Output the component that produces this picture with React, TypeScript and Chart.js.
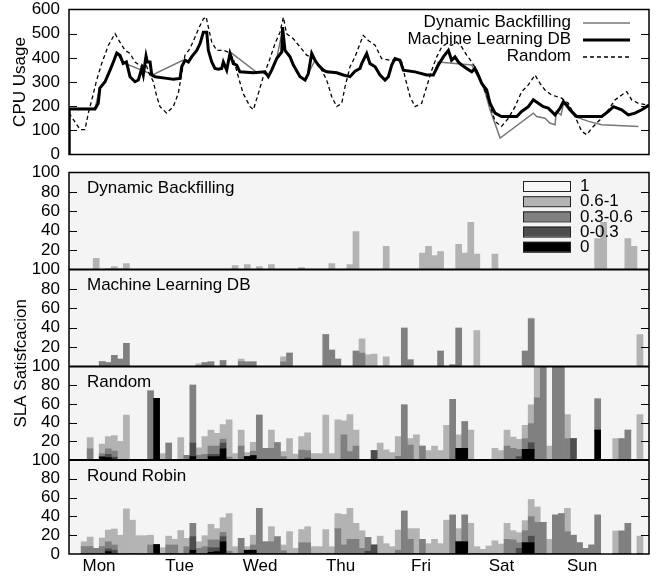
import React, { useEffect, useRef } from 'react';
import { Chart, registerables } from 'chart.js';

Chart.register(...registerables);

const FONT_FAMILY = 'Liberation Sans';
const DAYS = ['Mon', 'Tue', 'Wed', 'Thu', 'Fri', 'Sat', 'Sun'];
const X_MIN = -0.373;
const X_MAX = 6.832;
const BIN_COUNT = 96;
const BIN_WIDTH = (X_MAX - X_MIN) / BIN_COUNT;

// ---- CPU usage (x in days from Monday, y in CPU units) ----
const CPU_DB: [number, number][] = [
  [-0.37, 190], [-0.05, 190], [0.01, 275], [0.075, 301], [0.137, 349], [0.178, 383], [0.22, 420], [0.3, 380],
  [0.67, 330], [1.04, 390], [1.11, 383], [1.15, 404], [1.214, 431], [1.255, 459], [1.296, 506], [1.338, 506],
  [1.358, 431], [1.4, 383], [1.44, 356], [1.482, 353], [1.524, 356], [1.544, 383], [1.586, 349], [1.627, 425],
  [1.95, 342], [2.062, 342], [2.103, 322], [2.145, 349], [2.207, 397], [2.27, 500], [2.31, 431], [2.373, 404],
  [2.414, 370], [2.497, 322], [2.56, 308], [2.6, 335], [2.683, 390], [2.724, 370], [2.786, 349], [2.83, 342],
  [2.953, 338], [3.035, 329], [3.118, 322], [3.18, 345], [3.242, 356], [3.263, 376], [3.325, 418], [3.366, 376],
  [3.43, 363], [3.49, 329], [3.553, 308], [3.594, 322], [3.636, 370], [3.677, 397], [3.739, 390], [3.78, 349],
  [3.925, 342], [4.07, 329], [4.153, 329], [4.215, 383], [4.63, 370], [4.754, 294], [4.8, 253], [4.857, 185],
  [4.983, 68], [5.395, 171], [5.437, 157], [5.54, 150], [5.6, 130], [5.665, 123], [5.68, 178], [5.74, 164],
  [5.77, 212], [5.913, 157], [6.08, 137], [6.245, 123], [6.7, 116],
];

const CPU_ML: [number, number][] = [
  [-0.37, 0], [-0.37, 188], [-0.05, 188], [-0.01, 212], [0.01, 275], [0.075, 301], [0.137, 349], [0.178, 383],
  [0.22, 420], [0.26, 411], [0.3, 377], [0.34, 383], [0.385, 322], [0.447, 301], [0.488, 308], [0.53, 356],
  [0.55, 329], [0.584, 407], [0.6, 383], [0.634, 383], [0.655, 329], [0.696, 322], [0.84, 315], [0.923, 311],
  [1.006, 315], [1.027, 363], [1.068, 390], [1.11, 383], [1.15, 404], [1.214, 431], [1.255, 459], [1.296, 506],
  [1.338, 506], [1.358, 431], [1.4, 383], [1.44, 356], [1.482, 353], [1.524, 356], [1.544, 383], [1.586, 349],
  [1.627, 418], [1.668, 376], [1.71, 370], [1.75, 342], [1.917, 338], [2.062, 342], [2.103, 322], [2.145, 349],
  [2.207, 397], [2.27, 424], [2.28, 527], [2.31, 431], [2.373, 404], [2.414, 370], [2.497, 322], [2.56, 308],
  [2.6, 335], [2.642, 418], [2.683, 390], [2.724, 370], [2.786, 349], [2.83, 342], [2.953, 338], [3.035, 329],
  [3.118, 322], [3.18, 345], [3.242, 356], [3.263, 376], [3.325, 418], [3.366, 376], [3.43, 363], [3.49, 329],
  [3.553, 308], [3.594, 322], [3.636, 370], [3.677, 397], [3.739, 390], [3.78, 349], [3.925, 342], [4.07, 329],
  [4.153, 329], [4.215, 370], [4.277, 404], [4.34, 431], [4.38, 390], [4.422, 404], [4.463, 383], [4.505, 370],
  [4.567, 356], [4.63, 342], [4.67, 356], [4.71, 329], [4.754, 294], [4.816, 267], [4.857, 212], [4.92, 171],
  [5.0, 157], [5.19, 157], [5.25, 178], [5.333, 198], [5.395, 226], [5.457, 212], [5.52, 198], [5.58, 192],
  [5.665, 164], [5.727, 192], [5.768, 219], [5.81, 205], [5.85, 185], [5.892, 171], [5.934, 157], [6.245, 157],
  [6.327, 178], [6.39, 198], [6.493, 185], [6.575, 164], [6.658, 171], [6.742, 185], [6.8, 198], [6.832, 205],
];

const CPU_RANDOM: [number, number][] = [
  [-0.373, 172], [-0.236, 103], [-0.174, 103], [-0.133, 171], [-0.09, 226], [-0.029, 308], [0.033, 376], [0.116, 452],
  [0.199, 500], [0.26, 465], [0.323, 431], [0.385, 418], [0.447, 383], [0.53, 363], [0.571, 390], [0.613, 342],
  [0.675, 301], [0.717, 240], [0.758, 198], [0.84, 171], [0.923, 198], [0.985, 253], [1.027, 335], [1.068, 411],
  [1.13, 438], [1.193, 486], [1.255, 534], [1.296, 561], [1.33, 570], [1.358, 527], [1.4, 465], [1.462, 431],
  [1.544, 431], [1.606, 424], [1.668, 397], [1.73, 322], [1.79, 253], [1.876, 198], [1.917, 185], [1.98, 253],
  [2.04, 322], [2.124, 397], [2.186, 459], [2.248, 506], [2.29, 568], [2.33, 500], [2.414, 479], [2.497, 445],
  [2.58, 411], [2.662, 397], [2.745, 363], [2.828, 308], [2.89, 240], [2.953, 198], [3.015, 212], [3.056, 280],
  [3.118, 363], [3.18, 404], [3.242, 459], [3.283, 493], [3.345, 472], [3.43, 452], [3.51, 397], [3.615, 390],
  [3.677, 390], [3.76, 383], [3.8, 322], [3.863, 240], [3.925, 198], [4.008, 212], [4.07, 280], [4.133, 349],
  [4.195, 404], [4.257, 445], [4.32, 459], [4.38, 452], [4.443, 465], [4.505, 445], [4.567, 411], [4.63, 383],
  [4.692, 349], [4.774, 281], [4.836, 226], [4.92, 137], [5.0, 116], [5.085, 150], [5.168, 198], [5.25, 260],
  [5.333, 288], [5.416, 329], [5.478, 294], [5.54, 267], [5.623, 246], [5.748, 233], [5.83, 212], [5.913, 157],
  [5.996, 96], [6.058, 82], [6.14, 116], [6.224, 144], [6.327, 185], [6.41, 226], [6.493, 246], [6.555, 260],
  [6.617, 226], [6.7, 212], [6.8, 205], [6.832, 205],
];

const CPU_LEGEND = ['Dynamic Backfilling', 'Machine Learning DB', 'Random'];

// ---- SLA satisfaction classes ----
const SLA_CLASSES = ['1', '0.6-1', '0.3-0.6', '0-0.3', '0'];
const SLA_COLORS = ['#f8f8f8', '#b3b3b3', '#808080', '#4d4d4d', '#000000'];

// Dynamic Backfilling (bin index, share % per class)
const DB_BINS = [4, 6, 7, 8, 9, 27, 29, 31, 33, 38, 43, 46, 47, 52, 58, 59, 60, 61, 64, 65, 66, 67, 70, 87, 88, 92, 93];
const DB_ZERO = [0, 0, 0, 0, 0, 0, 0, 0, 0, 0, 0, 0, 0, 0, 0, 0, 0, 0, 0, 0, 0, 0, 0, 0, 0, 0, 0];
const DB_LOW = [0, 0, 0, 0, 0, 0, 0, 0, 0, 0, 0, 0, 0, 0, 0, 0, 0, 0, 0, 0, 0, 0, 0, 0, 0, 0, 0];
const DB_MID = [0, 0, 0, 0, 0, 0, 0, 0, 0, 0, 0, 0, 0, 0, 0, 0, 0, 0, 0, 0, 0, 0, 0, 0, 0, 0, 0];
const DB_HIGH = [11.6, 1, 3, 1, 6, 4, 5, 3, 5, 2, 6, 5, 39, 24, 16.8, 24, 14.4, 18.5, 26, 17, 48.6, 15.8, 15.8, 32, 48.6, 32, 24];

// Machine Learning DB
const ML_BINS = [5, 6, 7, 8, 9, 21, 22, 23, 25, 28, 29, 30, 35, 36, 42, 43, 44, 47, 48, 49, 50, 52, 55, 56, 61, 63, 64, 67, 75, 76, 94];
const ML_ZERO = [0, 0, 0, 0, 0, 0, 0, 0, 0, 0, 0, 0, 0, 0, 0, 0, 0, 0, 0, 0, 0, 0, 0, 0, 0, 0, 0, 0, 0, 0, 0];
const ML_LOW = [0, 0, 0, 0, 0, 0, 0, 0, 0, 0, 0, 0, 0, 0, 0, 0, 0, 0, 0, 0, 0, 0, 0, 0, 0, 0, 0, 0, 0, 0, 0];
const ML_MID = [5, 4, 11.4, 7.6, 24, 1, 4, 4.8, 6, 5, 4.8, 4.8, 4.8, 13.8, 32.8, 17, 7.6, 16, 13.8, 0, 0, 0, 39.7, 7, 16, 1.7, 39.7, 0, 16, 49, 0];
const ML_HIGH = [0, 0, 0, 0, 0, 1.7, 0, 0, 0, 2.6, 0, 0, 5.2, 0, 0, 0, 0, 0, 14.8, 12, 12.8, 10, 0, 0, 0, 0, 0, 37, 0, 1, 32.8];

// Random
const RA_BINS = [3, 5, 6, 7, 8, 9, 13, 14, 15, 16, 18, 19, 20, 21, 22, 23, 24, 25, 26, 27, 28, 29, 30, 31, 32, 33, 34, 35, 36, 37,
  38, 39, 40, 41, 42, 43, 44, 45, 46, 47, 50, 51, 52, 53, 54, 55, 56, 57, 58, 59, 60, 61, 62, 63, 64, 65, 66, 70, 71, 72,
  73, 74, 75, 76, 77, 78, 79, 80, 81, 82, 83, 87, 90, 91, 92, 94];
const RA_ZERO = [0, 3, 2.5, 1, 0, 0, 0, 66, 0, 0, 0, 0, 3.6, 0, 0, 3.6, 3.6, 12, 0, 0, 0, 3.6, 4.6, 0, 0, 0, 0, 0, 0, 0,
  0, 0, 0, 0, 0, 0, 0, 0, 0, 0, 0, 0, 0, 0, 0, 0, 0, 0, 0, 0, 0, 0, 0, 0, 12.6, 12.6, 0, 0, 0, 0,
  0, 0, 11.5, 11.5, 0, 0, 0, 0, 0, 0, 0, 32, 0, 0, 0, 0];
const RA_LOW = [0, 1, 3.5, 2, 0, 0, 0, 0, 0, 0, 0, 0, 14.4, 0, 0, 2.4, 2.4, 6, 0, 0, 0, 0, 0, 0, 0, 0, 0, 0, 0, 0,
  0, 2, 0, 0, 0, 0, 0, 0, 0, 0, 10, 0, 0, 0, 0, 0, 0, 0, 0, 0, 0, 0, 0, 0, 0, 0, 0, 0, 0, 0,
  0, 3.6, 0, 7.2, 0, 0, 0, 0, 0, 0, 23, 0, 0, 0, 0, 0];
const RA_MID = [12, 3, 6, 6.6, 0, 0, 74, 0, 0, 18, 0, 5, 62, 5, 6, 9, 9, 4.5, 3, 0, 15, 0, 5, 48, 12.5, 12.5, 18.6, 3.6, 0, 0,
  10.7, 8, 0, 0, 0, 0, 0, 27, 9, 15, 0, 0, 0, 0, 4, 59, 16, 0, 15, 0, 0, 0, 0, 65, 0, 28.4, 0, 0, 0, 15,
  12.6, 7.9, 11.5, 20.3, 66.5, 100, 0, 100, 100, 23, 0, 33.5, 0, 23, 32, 0];
const RA_HIGH = [12, 10, 13, 16.4, 20, 48, 0, 0, 7, 0, 24, 0, 0, 8, 19, 17, 13.6, 15.5, 40, 7, 17, 4.4, 9.4, 0, 0, 19.5, 0, 5.4, 23, 6.4,
  14.3, 19, 7, 7, 48, 7, 43, 15, 39.5, 17, 0, 18, 11, 8, 21, 0, 7, 27, 0, 10, 15, 10, 37, 0, 14.4, 0, 32, 12.6, 10, 17,
  11.9, 10.5, 14, 20, 33.5, 0, 15, 0, 0, 25.5, 0, 0, 23, 0, 0, 48.5];

// Round Robin
const RR_BINS = [2, 3, 4, 5, 6, 7, 8, 9, 10, 11, 12, 13, 14, 15, 16, 17, 18, 19, 20, 21, 22, 23, 24, 25, 26, 27, 28, 29, 30, 31,
  32, 33, 34, 35, 36, 37, 38, 39, 40, 41, 42, 43, 44, 45, 46, 47, 48, 49, 50, 51, 52, 53, 54, 55, 56, 57, 58, 59, 60, 61,
  62, 63, 64, 65, 66, 67, 68, 69, 70, 71, 72, 73, 74, 75, 76, 77, 78, 79, 80, 81, 82, 83, 84, 85, 86, 87, 90, 91, 92, 94];
const RR_ZERO = [0, 0, 0, 0, 2.5, 0, 0, 0, 0, 0, 0, 0, 10, 0, 0, 0, 0, 0, 4, 0, 0, 1.8, 2.5, 13, 0, 0, 0, 4, 4, 0,
  0, 0, 0, 0, 0, 0, 0, 0, 0, 0, 0, 0, 0, 0, 0, 0, 0, 0, 0, 0, 0, 0, 0, 0, 0, 0, 0, 0, 0, 0,
  0, 0, 13, 13, 0, 0, 0, 0, 0, 0, 0, 0, 0, 12, 12, 0, 0, 0, 0, 0, 0, 0, 0, 0, 0, 0, 0, 0, 0, 0];
const RR_LOW = [0, 0, 0, 0, 3, 4, 0, 0, 0, 0, 0, 0, 0, 0, 0, 0, 0, 0, 14.4, 0, 0, 4.9, 4.2, 5.4, 0, 0, 0, 0, 0, 0,
  0, 0, 0, 0, 0, 0, 0, 0, 0, 0, 0, 0, 0, 0, 0, 0, 0, 3, 9.6, 0, 0, 0, 0, 0, 0, 0, 0, 0, 0, 0,
  0, 0, 0, 0, 0, 0, 0, 0, 0, 0, 0, 0, 6, 0, 7, 0, 0, 0, 0, 0, 0, 0, 0, 0, 0, 0, 0, 0, 0, 0];
const RR_MID = [8, 8, 6, 8, 7.5, 5.6, 0, 0, 0, 0, 0, 9.6, 0, 0, 9.6, 9.6, 0, 7.8, 14.2, 6, 7.8, 8.3, 8.3, 4.6, 3, 0, 16.7, 0, 5.6, 48.6,
  13, 13, 18.4, 3.5, 0, 0, 12, 12, 0, 0, 0, 0, 27, 9.6, 15.6, 15.6, 6, 14.7, 0, 0, 0, 0, 4, 45.7, 15.6, 0, 15.6, 0, 0, 0,
  0, 41.5, 0, 28.5, 0, 0, 0, 0, 0, 0, 15.6, 15, 6, 12.8, 20.7, 33.7, 33.7, 0, 41.5, 43, 23.8, 20, 12, 6, 9.6, 41.5, 0, 24.5, 32.6, 0];
const RR_HIGH = [5, 10, 0, 9, 12.5, 17, 20, 48, 36, 19.5, 19.5, 10.4, 0, 6.7, 9.4, 6, 25, 8.9, 0, 7, 11.7, 16.6, 12, 15.6, 40, 7.8, 0, 3.8, 10.4, 0,
  0, 16, 0, 6.1, 23.8, 6, 14, 17, 7.8, 7.8, 26, 7.8, 16, 32.4, 33, 17, 18.8, 0, 0, 19, 11, 7.8, 21.5, 0, 11.4, 27, 0, 11, 15.6, 11,
  36, 0, 14, 0, 32.6, 7.8, 5, 8.5, 14, 10.6, 17, 9.8, 10.7, 10.7, 18.3, 16.3, 0, 15.6, 0, 0, 24.8, 0, 0, 0, 0, 0, 24.5, 0, 0, 19];

const PANELS = [
  { axis: 'yDB', title: 'Dynamic Backfilling', bins: DB_BINS, classes: [DB_ZERO, DB_LOW, DB_MID, DB_HIGH], weight: 97, order: 4 },
  { axis: 'yML', title: 'Machine Learning DB', bins: ML_BINS, classes: [ML_ZERO, ML_LOW, ML_MID, ML_HIGH], weight: 97, order: 3 },
  { axis: 'yRA', title: 'Random', bins: RA_BINS, classes: [RA_ZERO, RA_LOW, RA_MID, RA_HIGH], weight: 93.5, order: 2 },
  { axis: 'yRR', title: 'Round Robin', bins: RR_BINS, classes: [RR_ZERO, RR_LOW, RR_MID, RR_HIGH], weight: 94, order: 1 },
];
// class colours for stack order bottom -> top: 0, 0-0.3, 0.3-0.6, 0.6-1
const STACK_COLORS = [SLA_COLORS[4], SLA_COLORS[3], SLA_COLORS[2], SLA_COLORS[1]];

const FONT = `17px "${FONT_FAMILY}"`;

Chart.defaults.font.family = FONT_FAMILY;
Chart.defaults.font.size = 17;
Chart.defaults.color = '#000';

function hline(ctx: CanvasRenderingContext2D, x1: number, x2: number, y: number) {
  ctx.beginPath();
  ctx.moveTo(x1, y);
  ctx.lineTo(x2, y);
  ctx.stroke();
}

const topDecor = {
  id: 'topDecor',
  afterDatasetsDraw(chart: any) {
    const { ctx, chartArea: a, scales } = chart;
    const ys = scales.y;
    ctx.save();
    ctx.strokeStyle = '#000';
    ctx.lineWidth = 1;
    for (let v = 100; v < 600; v += 100) {
      const py = Math.round(ys.getPixelForValue(v)) + 0.5;
      hline(ctx, a.left, a.left + 8, py);
      hline(ctx, a.right - 8, a.right, py);
    }
    ctx.lineWidth = 1.5;
    ctx.strokeRect(a.left, a.top, a.right - a.left, a.bottom - a.top);
    ctx.font = FONT;
    ctx.textAlign = 'right';
    ctx.textBaseline = 'middle';
    ctx.fillStyle = '#000';
    CPU_LEGEND.forEach((label, k) => {
      const ds = chart.data.datasets.find((d: any) => d.label === label);
      const ly = a.top + 13.5 + k * 17;
      ctx.fillText(label, a.right - 78, ly - 0.5);
      ctx.strokeStyle = ds.borderColor;
      ctx.lineWidth = ds.borderWidth;
      ctx.setLineDash(ds.borderDash || []);
      hline(ctx, a.right - 66, a.right - 19, ly);
      ctx.setLineDash([]);
    });
    ctx.restore();
  },
};

const bottomDecor = {
  id: 'bottomDecor',
  beforeDatasetsDraw(chart: any) {
    const { ctx, chartArea: a } = chart;
    ctx.save();
    ctx.fillStyle = '#f4f4f4';
    ctx.fillRect(a.left, a.top, a.right - a.left, a.bottom - a.top);
    ctx.restore();
  },
  afterDatasetsDraw(chart: any) {
    const { ctx, chartArea: a, scales } = chart;
    ctx.save();
    ctx.strokeStyle = '#000';
    ctx.fillStyle = '#000';
    ctx.font = FONT;
    PANELS.forEach((p, k) => {
      const s = scales[p.axis];
      ctx.lineWidth = 1;
      [20, 40, 60, 80].forEach((v) => {
        const py = Math.round(s.getPixelForValue(v)) + 0.5;
        hline(ctx, a.left, a.left + 8, py);
        hline(ctx, a.right - 8, a.right, py);
      });
      ctx.textAlign = 'left';
      ctx.textBaseline = 'alphabetic';
      ctx.fillText(p.title, a.left + 18, s.top + 20.5);
      if (k > 0) {
        ctx.lineWidth = 2;
        hline(ctx, a.left, a.right, s.top);
      }
    });
    ctx.lineWidth = 1.5;
    ctx.strokeRect(a.left, a.top, a.right - a.left, a.bottom - a.top);

    // class legend inside the first panel
    const top = scales[PANELS[0].axis].top;
    ctx.textAlign = 'left';
    ctx.textBaseline = 'middle';
    SLA_CLASSES.forEach((label, k) => {
      const cy = top + 13.5 + k * 15.2;
      ctx.fillStyle = SLA_COLORS[k];
      ctx.fillRect(a.right - 126, cy - 5, 48, 10);
      ctx.lineWidth = 1;
      ctx.strokeStyle = '#222';
      ctx.strokeRect(a.right - 126 + 0.5, cy - 5 + 0.5, 47, 10);
      ctx.fillStyle = '#000';
      ctx.fillText(label, a.right - 69, cy + 0.5);
    });

    // shared y title
    ctx.save();
    ctx.translate(21, (a.top + a.bottom) / 2);
    ctx.rotate(-Math.PI / 2);
    ctx.textAlign = 'center';
    ctx.textBaseline = 'middle';
    ctx.fillText('SLA Satisfcacion', 0, 0);
    ctx.restore();
    ctx.restore();
  },
};

export default function App() {
  const topRef = useRef<HTMLCanvasElement>(null);
  const botRef = useRef<HTMLCanvasElement>(null);

  useEffect(() => {
    document.body.style.margin = '0';
    const toPoints = (arr: [number, number][]) => arr.map(([x, y]) => ({ x, y }));

    const topChart = new Chart(topRef.current as HTMLCanvasElement, {
      type: 'line',
      data: {
        datasets: [
          { label: 'Machine Learning DB', data: toPoints(CPU_ML), borderColor: '#000000', borderWidth: 3, pointRadius: 0, tension: 0 },
          { label: 'Random', data: toPoints(CPU_RANDOM), borderColor: '#000000', borderWidth: 1.3, borderDash: [4, 3], pointRadius: 0, tension: 0 },
          { label: 'Dynamic Backfilling', data: toPoints(CPU_DB), borderColor: '#777777', borderWidth: 1.5, pointRadius: 0, tension: 0 },
        ],
      },
      options: {
        responsive: false,
        animation: false,
        events: [],
        layout: { padding: { top: 9, right: 15, bottom: 9, left: 0 } },
        plugins: { legend: { display: false }, tooltip: { enabled: false } },
        scales: {
          x: { type: 'linear', min: X_MIN, max: X_MAX, display: false, offset: false },
          y: {
            type: 'linear', min: 0, max: 600,
            afterFit: (s: any) => { s.width = 69; },
            grid: { display: false, drawTicks: true, tickLength: 8 },
            border: { display: false },
            ticks: { stepSize: 100, padding: 1, autoSkip: false, color: '#000', font: { size: 17, lineHeight: 1 } },
            title: { display: true, text: 'CPU Usage', color: '#000', padding: { top: 10, bottom: 0 }, font: { size: 17, lineHeight: 1.2 } },
          },
        },
      } as any,
      plugins: [topDecor],
    });

    const datasets: any[] = [];
    PANELS.forEach((p) => {
      p.classes.forEach((vals, c) => {
        datasets.push({
          type: 'bar',
          label: `${p.title} ${c}`,
          data: p.bins.map((b, k) => ({ x: X_MIN + (b + 0.5) * BIN_WIDTH, y: vals[k] })),
          backgroundColor: STACK_COLORS[c],
          borderWidth: 0,
          yAxisID: p.axis,
          stack: p.axis,
          grouped: false,
          barPercentage: 1,
          categoryPercentage: 1,
        });
      });
    });

    const yScales: any = {};
    PANELS.forEach((p, k) => {
      const last = k === PANELS.length - 1;
      yScales[p.axis] = {
        type: 'linear', min: 0, max: 100, stacked: true,
        position: 'left', stack: 'sla', stackWeight: p.weight, weight: p.order,
        afterFit: (s: any) => { s.width = 69; },
        grid: { display: false, drawTicks: true, tickLength: 8 },
        border: { display: false },
        ticks: {
          stepSize: 20, padding: 1, autoSkip: false, color: '#000', font: { size: 17, lineHeight: 1 },
          callback: (v: number) => (v === 0 && !last ? '' : String(v)),
        },
      };
    });

    const botChart = new Chart(botRef.current as HTMLCanvasElement, {
      type: 'bar',
      data: { datasets },
      options: {
        responsive: false,
        animation: false,
        events: [],
        layout: { padding: { top: 8, right: 15, bottom: 0, left: 0 } },
        plugins: { legend: { display: false }, tooltip: { enabled: false } },
        scales: {
          x: {
            type: 'linear', min: X_MIN, max: X_MAX, offset: false,
            afterBuildTicks: (s: any) => { s.ticks = DAYS.map((_, i) => ({ value: i })); },
            afterFit: (s: any) => { s.height = 22; },
            grid: { display: false, drawTicks: false },
            border: { display: false },
            ticks: {
              autoSkip: false, maxRotation: 0, padding: 4, color: '#000', font: { size: 17, lineHeight: 1 },
              callback: (v: number) => DAYS[Math.round(v)] ?? '',
            },
          },
          ...yScales,
        },
      } as any,
      plugins: [bottomDecor],
    });

    return () => {
      topChart.destroy();
      botChart.destroy();
    };
  }, []);

  return (
    <div style={{ position: 'relative', width: 664, height: 576, background: '#ffffff' }}>
      <canvas ref={topRef} width={664} height={164} style={{ position: 'absolute', left: 0, top: 0 }} />
      <canvas ref={botRef} width={664} height={413} style={{ position: 'absolute', left: 0, top: 163 }} />
    </div>
  );
}
